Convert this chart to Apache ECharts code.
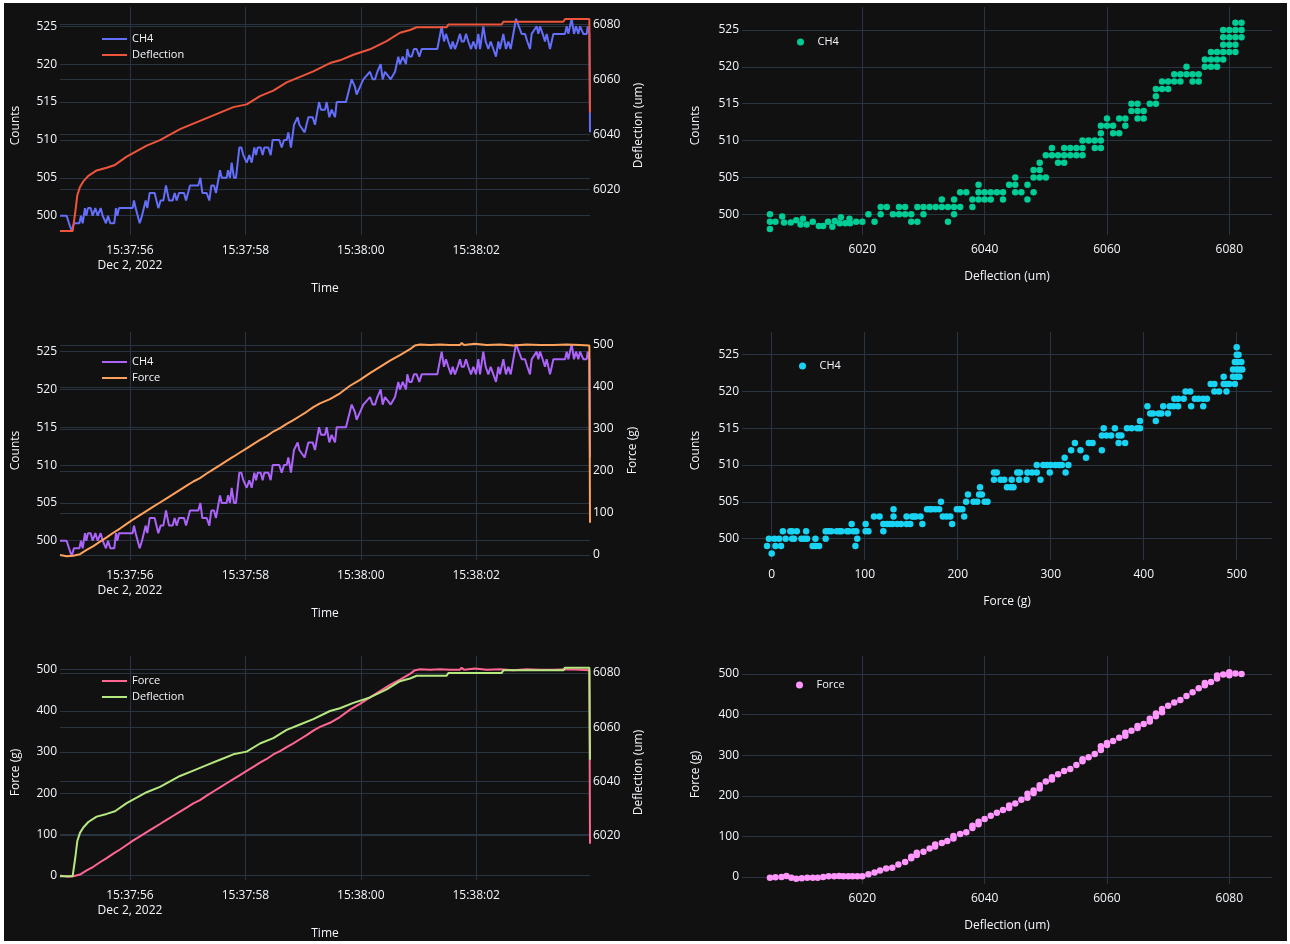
<!DOCTYPE html>
<html>
<head>
<meta charset="utf-8">
<script src="https://cdn.jsdelivr.net/npm/echarts@6/dist/echarts.min.js"></script>
<style>
  html, body { margin: 0; padding: 0; background: #ffffff; width: 1290px; height: 944px; overflow: hidden; }
  #chart { position: absolute; left: 4px; top: 3px; width: 1283px; height: 938px; background: #111111; }
</style>
</head>
<body>
<div id="chart"></div>
<script>
// ---- Recorded run, Dec 2, 2022 (time offsets in ms after 15:37:56) ----
// CH4 detector counts over time: [ms, counts]
const ch4OverTime = [
  [-1213,500],[-1098,500],[-1057,499],[-1011,498],[-971,499],[-878,499],[-849,500],[-820,499],[-780,501],[-757,500],
  [-728,501],[-682,501],[-647,500],[-601,501],[-560,500],[-508,501],[-474,500],[-416,499],[-381,500],[-341,499],
  [-272,499],[-243,501],[-220,500],[-191,501],[46,501],[69,502],[98,501],[127,501],[168,499],[208,500],
  [272,502],[300,501],[341,503],[427,503],[491,501],[531,502],[578,502],[624,504],[676,502],[739,502],
  [774,503],[809,502],[849,503],[936,503],[971,502],[1040,504],[1184,504],[1219,505],[1254,503],[1329,503],
  [1375,502],[1410,504],[1456,504],[1490,503],[1560,506],[1589,505],[1675,505],[1698,506],[1733,505],[1762,507],
  [1802,505],[1837,505],[1895,509],[1930,509],[1964,508],[2022,507],[2068,508],[2109,507],[2155,509],[2184,508],
  [2213,509],[2265,509],[2299,508],[2328,509],[2397,509],[2438,508],[2473,510],[2588,510],[2629,509],[2669,510],
  [2715,510],[2744,511],[2790,509],[2842,512],[2906,513],[2935,512],[3027,511],[3091,513],[3166,513],[3206,512],
  [3276,515],[3310,514],[3380,514],[3408,515],[3455,513],[3495,514],[3553,513],[3582,515],[3743,515],[3842,518],
  [3899,517],[3928,516],[3986,517],[4044,518],[4159,519],[4206,518],[4246,518],[4287,519],[4344,520],[4379,518],
  [4419,519],[4518,518],[4593,519],[4650,521],[4679,520],[4726,521],[4783,520],[4806,522],[4841,521],[4881,521],
  [4922,522],[4968,522],[5014,521],[5055,522],[5113,522],[5199,522],[5257,522],[5326,522],[5401,525],[5442,523],
  [5476,524],[5517,523],[5563,522],[5592,523],[5632,522],[5679,523],[5719,524],[5748,523],[5788,523],[5823,524],
  [5863,523],[5910,522],[5950,523],[5996,522],[6037,524],[6066,522],[6123,525],[6164,523],[6210,522],[6251,523],
  [6297,522],[6343,521],[6384,523],[6412,522],[6441,523],[6470,524],[6516,522],[6557,523],[6597,522],[6690,526],
  [6713,526],[6788,524],[6846,524],[6886,523],[6932,522],[6961,524],[7048,525],[7077,524],[7106,525],[7152,524],
  [7192,523],[7221,524],[7279,522],[7337,524],[7539,524],[7568,525],[7597,524],[7654,526],[7695,524],[7730,525],
  [7770,524],[7799,525],[7857,524],[7915,524],[7932,525],[7961,524],[7972,511]
];

// Deflection over time: [ms, um]
const deflectionOverTime = [
  [-1213,6005],[-994,6005],[-947,6012],[-913,6018],[-867,6021],[-809,6023],[-722,6025],[-578,6027],[-404,6028],[-260,6029],
  [-58,6032],[116,6034],[289,6036],[520,6038],[693,6040],[867,6042],[1098,6044],[1329,6046],[1560,6048],[1791,6050],
  [2022,6051],[2253,6054],[2484,6056],[2715,6059],[2946,6061],[3177,6063],[3466,6066],[3639,6067],[3871,6069],[4159,6071],
  [4448,6074],[4679,6077],[4853,6078],[4968,6079],[5488,6079],[5517,6080],[6441,6080],[6470,6081],[7510,6081],[7539,6082],
  [7961,6082],[7972,6048]
];

// Force over time: [ms, g]
const forceOverTime = [
  [-1213,0],[-1098,-3],[-982,-2],[-867,2],[-751,12],[-635,21],[-520,32],[-404,42],[-289,53],[-173,63],
  [-58,74],[58,85],[173,95],[289,105],[404,115],[520,125],[635,135],[751,145],[867,155],[982,165],
  [1098,175],[1213,183],[1329,194],[1444,204],[1560,214],[1675,224],[1791,234],[1906,244],[2022,254],[2137,264],
  [2253,274],[2369,283],[2484,294],[2600,302],[2715,312],[2831,321],[2946,331],[3062,341],[3177,352],[3293,361],
  [3466,371],[3639,385],[3813,403],[3986,417],[4159,433],[4333,448],[4506,463],[4679,476],[4853,490],[4939,499],
  [5026,501],[5199,500],[5372,501],[5546,500],[5719,500],[5748,505],[5788,500],[5979,503],[6008,501],[6181,500],
  [6412,501],[6643,499],[6874,501],[7106,500],[7337,500],[7568,501],[7799,500],[7961,499],[7972,77]
];

// CH4 counts against deflection: [um, counts]
const ch4VsDeflection = [
  [6004.9,500],[6004.9,499],[6004.9,498],[6005.8,499],[6006.9,499.7],[6007.2,498.9],[6008.3,498.9],[6009.2,499.2],[6009.9,498.6],[6010.3,499.4],
  [6010.9,498.6],[6011.9,499.0],[6012.9,498.4],[6013.6,498.4],[6014.4,499.0],[6015.1,498.3],[6015.5,499.1],[6016.3,498.8],[6016.5,499.6],[6017.2,498.8],
  [6017.9,499.4],[6018.0,498.8],[6019,499],[6020,499],[6021,500],[6022,499],[6023,500],[6023,501],[6024,501],[6025,500],
  [6026,501],[6026,500],[6027,501],[6027,500],[6028,500],[6028,499],[6029,499],[6029,501],[6030,501],[6030,500],
  [6031,501],[6032,501],[6033,502],[6033,501],[6034,501],[6034,499],[6035,502],[6035,501],[6035,500],[6036,503],
  [6036,501],[6037,503],[6038,502],[6038,501],[6039,504],[6039,503],[6039,502],[6040,503],[6040,502],[6041,503],
  [6041,502],[6042,503],[6043,503],[6043,502],[6044,504],[6045,505],[6045,504],[6045,503],[6046,503],[6047,504],
  [6047,502],[6048,506],[6048,505],[6048,503],[6049,507],[6049,506],[6049,505],[6050,505],[6050,508],[6051,509],
  [6051,508],[6052,508],[6052,507],[6053,509],[6053,508],[6053,507],[6054,509],[6054,508],[6055,509],[6055,508],
  [6056,510],[6056,509],[6056,508],[6057,510],[6058,510],[6058,509],[6059,512],[6059,511],[6059,510],[6059,509],
  [6060,513],[6060,512],[6061,512],[6061,511],[6062,513],[6062,511],[6063,513],[6063,512],[6064,515],[6064,514],
  [6065,515],[6065,514],[6065,513],[6066,514],[6066,513],[6067,515],[6068,517],[6068,516],[6068,515],[6069,518],
  [6069,517],[6070,518],[6070,517],[6071,519],[6071,518],[6072,519],[6072,518],[6073,520],[6073,519],[6074,519],
  [6074,518],[6075,519],[6075,518],[6076,521],[6076,520],[6077,522],[6077,521],[6077,520],[6078,522],[6078,521],
  [6078,520],[6079,525],[6079,524],[6079,523],[6079,522],[6079,521],[6080,525],[6080,524],[6080,523],[6080,522],
  [6081,526],[6081,525],[6081,524],[6081,523],[6081,522],[6082,526],[6082,525],[6082,524]
];

// CH4 counts against force: [g, counts]
const ch4VsForce = [
  [-3,500],[3,500],[-5,499],[4,499],[0,498],[8,500],[10,499],[12,501],[15,500],[20,501],
  [22,501],[22,500],[24,500],[27,501],[32,500],[35,500],[38,500],[37,501],[44,499],[47,499],
  [51,499],[47,500],[58,500],[58,501],[61,501],[64,501],[70,501],[73,501],[75,501],[81,501],
  [83,501],[86,502],[88,501],[91,501],[90,499],[92,500],[101,502],[101,501],[104,501],[110,503],
  [116,503],[120,502],[120,501],[124,502],[127,502],[130,502],[131,504],[131,503],[135,502],[139,502],
  [145,503],[145,502],[149,502],[151,503],[153,503],[155,503],[160,503],[162,502],[167,504],[170,504],
  [172,504],[176,504],[180,504],[182,505],[184,503],[188,503],[192,503],[194,502],[199,504],[202,504],
  [205,504],[207,503],[209,505],[211,506],[217,505],[221,505],[223,506],[224,507],[226,506],[229,505],
  [232,505],[239,509],[239,508],[242,509],[246,508],[250,508],[253,507],[257,507],[260,507],[258,508],
  [264,509],[267,509],[266,508],[274,508],[275,509],[280,509],[285,510],[285,509],[289,508],[292,510],
  [296,510],[300,510],[299,509],[305,510],[309,510],[312,510],[315,511],[316,509],[319,510],[322,512],
  [332,512],[326,513],[338,511],[341,513],[345,513],[355,512],[355,514],[360,514],[365,514],[357,515],
  [369,515],[373,514],[376,514],[373,513],[380,513],[382,515],[387,515],[393,515],[396,515],[396,516],
  [404,518],[407,517],[410,517],[413,516],[416,517],[419,517],[421,518],[426,517],[428,518],[432,518],
  [437,518],[433,519],[437,519],[443,519],[445,520],[450,520],[451,518],[455,519],[459,519],[464,518],
  [464,519],[468,519],[472,521],[476,521],[476,520],[481,520],[486,522],[486,521],[489,521],[492,521],
  [489,520],[498,521],[496,522],[500,522],[503,522],[496,523],[500,523],[503,523],[506,523],[498,524],
  [501,524],[505,524],[500,525],[502,525],[500,526]
];

// Force against deflection: [um, g]
const forceVsDeflection = [
  [6004.9,-1.6],[6005.8,-0.8],[6006.8,0],[6007.6,2.5],[6008.4,-1.6],[6009.2,-4],[6010.1,-3.3],[6011.0,-1.6],[6011.9,-1.6],[6012.7,-1.6],
  [6013.6,0],[6014.5,1.6],[6015.4,1.6],[6016.2,2.5],[6016.9,1.6],[6017.7,1.6],[6018.4,1.6],[6019.2,1.6],[6020.0,1.6],[6021,7],
  [6022,11],[6022.9,16],[6023.9,21],[6024.9,23],[6025.9,31],[6027,37],[6028,46],[6028,50],[6028.9,54],[6028.9,60],
  [6030,62],[6031,70],[6031.9,75],[6031.9,80],[6033,84],[6033.9,89],[6034.9,95],[6034.9,101],[6036,106],[6037,110],
  [6038,121],[6038,126],[6039,130],[6039,136],[6040,143],[6041,151],[6042,158],[6043,165],[6044,170],[6044,176],
  [6045,181],[6046,190],[6047,195],[6047,205],[6048,207],[6048,213],[6049,218],[6049,226],[6050,235],[6051,240],
  [6051,246],[6052,253],[6053,261],[6054,266],[6055,276],[6056,285],[6056,290],[6057,295],[6058,303],[6059,313],
  [6059,322],[6060,325],[6060,330],[6061,335],[6062,343],[6063,348],[6063,355],[6064,360],[6065,367],[6065,372],
  [6066,377],[6067,383],[6067,390],[6068,396],[6068,403],[6069,406],[6069,414],[6070,422],[6071,430],[6072,436],
  [6073,446],[6074,455],[6075,465],[6076,472],[6076,478],[6077,480],[6078,489],[6078,496],[6079,499],[6080,497],
  [6080,504],[6081,501],[6082,500]
];

// Tick labels
const timeTickMs = [0, 2000, 4000, 6000];
const dateLabel = 'Dec 2, 2022';
const countTicks = [500, 505, 510, 515, 520, 525];
const deflectionTicks = [6020, 6040, 6060, 6080];
const forceTicks = [0, 100, 200, 300, 400, 500];

// ---- Drawing ----
const BASE = new Date(2022, 11, 2, 15, 37, 56).getTime();
const toTime = rows => rows.map(([ms, v]) => [BASE + ms, v]);
const timeTicks = timeTickMs.map(ms => BASE + ms);

const FONT = 'Open Sans';
const TXT = '#f2f5fa';
const GRIDC = '#283442';
const pad2 = n => String(n).padStart(2, '0');
function fmtTime(v) {
  const d = new Date(v);
  const s = pad2(d.getHours()) + ':' + pad2(d.getMinutes()) + ':' + pad2(d.getSeconds());
  return Math.abs(v - timeTicks[0]) < 1 ? s + '\n' + dateLabel : s;
}

const labelStyle = { color: TXT, fontFamily: FONT, fontSize: 12 };
const nameStyle = { color: TXT, fontFamily: FONT, fontSize: 12 };

// time runs along a numeric axis (epoch ms) spanning exactly the recorded samples
function timeAxis(gridIndex) {
  return {
    type: 'value', gridIndex, min: 'dataMin', max: 'dataMax', scale: true,
    axisLine: { show: false },
    axisTick: { show: false, customValues: timeTicks },
    axisLabel: Object.assign({ customValues: timeTicks, formatter: fmtTime, margin: 8, lineHeight: 15, hideOverlap: false }, labelStyle),
    splitLine: { show: true, lineStyle: { color: GRIDC, width: 1 } },
    name: 'Time', nameLocation: 'middle', nameGap: 48, nameTextStyle: nameStyle
  };
}

function valAxis(gridIndex, min, max, ticks, name, position, nameGap) {
  return {
    type: 'value', gridIndex, min, max, position,
    axisLine: { show: false },
    axisTick: { show: false, customValues: ticks },
    axisLabel: Object.assign({ customValues: ticks, formatter: v => String(v), margin: position === 'bottom' ? 9 : 3 }, labelStyle),
    splitLine: { show: true, lineStyle: { color: GRIDC, width: 1 } },
    name, nameLocation: 'middle', nameGap,
    nameTextStyle: Object.assign({}, nameStyle, position === 'bottom' ? {} : { padding: [0, 9, 0, 0] })
  };
}

const grids = [
  { left: 56, top: 4, width: 530, height: 228 },
  { left: 56, top: 329, width: 530, height: 228 },
  { left: 56, top: 653, width: 530, height: 228 },
  { left: 738, top: 4, width: 530, height: 228 },
  { left: 738, top: 329, width: 530, height: 228 },
  { left: 738, top: 653, width: 530, height: 228 }
];

const xAxes = [
  timeAxis(0), timeAxis(1), timeAxis(2),
  valAxis(3, 6000.33, 6086.98, deflectionTicks, 'Deflection (um)', 'bottom', 36),
  valAxis(4, -31.94, 537.96, forceTicks, 'Force (g)', 'bottom', 36),
  valAxis(5, 6000.33, 6086.98, deflectionTicks, 'Deflection (um)', 'bottom', 36)
];

const yAxes = [
  valAxis(0, 497.45, 527.55, countTicks, 'Counts', 'left', 38),
  valAxis(0, 6003.55, 6086.36, deflectionTicks, 'Deflection (um)', 'right', 43),
  valAxis(1, 497.45, 527.6, countTicks, 'Counts', 'left', 38),
  valAxis(1, -11.9, 530.95, forceTicks, 'Force (g)', 'right', 37),
  valAxis(2, -11.2, 533.4, forceTicks, 'Force (g)', 'left', 38),
  valAxis(2, 6003.6, 6086.3, deflectionTicks, 'Deflection (um)', 'right', 43),
  valAxis(3, 497.19, 528.12, countTicks, 'Counts', 'left', 40),
  valAxis(4, 497.1, 528.08, countTicks, 'Counts', 'left', 40),
  valAxis(5, -17.2, 544.3, forceTicks, 'Force (g)', 'left', 40)
];

function lineSeries(name, xi, yi, data, color) {
  return {
    type: 'line', name, xAxisIndex: xi, yAxisIndex: yi, data,
    showSymbol: false, symbol: 'none', clip: true,
    lineStyle: { color, width: 2 }, itemStyle: { color }
  };
}
function scatterSeries(name, xi, yi, data, color) {
  return {
    type: 'scatter', name, xAxisIndex: xi, yAxisIndex: yi, data,
    symbolSize: 6.5, itemStyle: { color, opacity: 1 }
  };
}

const series = [
  lineSeries('CH4|1', 0, 0, toTime(ch4OverTime), '#636efa'),
  lineSeries('Deflection|1', 0, 1, toTime(deflectionOverTime), '#ef553b'),
  lineSeries('CH4|2', 1, 2, toTime(ch4OverTime), '#ab63fa'),
  lineSeries('Force|2', 1, 3, toTime(forceOverTime), '#ffa15a'),
  lineSeries('Force|3', 2, 4, toTime(forceOverTime), '#ff6692'),
  lineSeries('Deflection|3', 2, 5, toTime(deflectionOverTime), '#b6e880'),
  scatterSeries('CH4|4', 3, 6, ch4VsDeflection, '#00cc96'),
  scatterSeries('CH4|5', 4, 7, ch4VsForce, '#19d3f3'),
  scatterSeries('Force|6', 5, 8, forceVsDeflection, '#ff97ff')
];

const legendText = { color: TXT, fontFamily: FONT, fontSize: 11, lineHeight: 14 };
const shortName = n => n.split('|')[0];
function lineLegend(left, top, names) {
  return { orient: 'vertical', left, top, padding: 0, itemGap: 2, itemWidth: 25, itemHeight: 2,
    icon: 'rect', data: names, formatter: shortName, textStyle: legendText, selectedMode: false };
}
function dotLegend(left, top, names) {
  return { orient: 'vertical', left, top, padding: 0, itemGap: 2, itemWidth: 24, itemHeight: 7,
    icon: 'circle', data: names, formatter: shortName, textStyle: legendText, selectedMode: false };
}

const chart = echarts.init(document.getElementById('chart'), null, { renderer: 'canvas' });
chart.setOption({
  backgroundColor: '#111111',
  animation: false,
  textStyle: { fontFamily: FONT },
  grid: grids,
  xAxis: xAxes,
  yAxis: yAxes,
  legend: [
    lineLegend(98, 29, ['CH4|1', 'Deflection|1']),
    lineLegend(98, 352, ['CH4|2', 'Force|2']),
    lineLegend(98, 671, ['Force|3', 'Deflection|3']),
    dotLegend(793, 32, ['CH4|4']),
    dotLegend(795, 356, ['CH4|5']),
    dotLegend(792, 675, ['Force|6'])
  ],
  series
});
</script>
</body>
</html>
